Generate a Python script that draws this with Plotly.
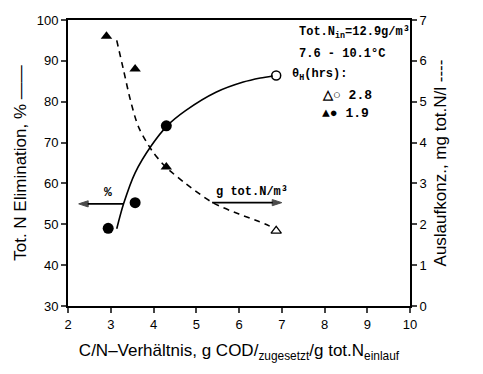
import plotly.graph_objects as go

# Data
cn_circles = [2.94, 3.57, 4.30]
elim_circles = [49.0, 55.3, 74.1]
cn_circle_open = [6.87]
elim_circle_open = [86.4]

cn_tri = [2.90, 3.57, 4.30]
conc_tri = [6.6, 5.8, 3.4]
cn_tri_open = [6.87]
conc_tri_open = [1.84]

# fitted curves
cn_curve_solid = [3.14, 3.30, 3.57, 3.96, 4.32, 4.75, 5.46, 6.10, 6.50, 6.79]
elim_curve_solid = [48.9, 55.0, 62.6, 69.4, 74.1, 77.8, 82.3, 84.8, 85.8, 86.3]
cn_curve_dash = [3.14, 3.30, 3.46, 3.65, 3.96, 4.28, 4.75, 5.40, 6.00, 6.47, 6.79]
conc_curve_dash = [6.50, 5.77, 5.04, 4.38, 3.81, 3.41, 3.00, 2.52, 2.25, 2.07, 1.92]

# direction arrows
arrow_left_x = [3.30, 2.25]
arrow_left_y = [55.0, 55.0]
arrow_right_x = [5.37, 7.0]
arrow_right_y = [55.3, 55.3]

x_ticks = [2, 3, 4, 5, 6, 7, 8, 9, 10]
y_ticks = [30, 40, 50, 60, 70, 80, 90, 100]
y2_ticks = [0, 1, 2, 3, 4, 5, 6, 7]

fig = go.Figure()
fig.add_trace(go.Scatter(x=cn_curve_solid, y=elim_curve_solid, mode="lines",
                         line=dict(color="black", width=1.6, shape="spline", smoothing=0.8), yaxis="y"))
fig.add_trace(go.Scatter(x=cn_curve_dash, y=conc_curve_dash, mode="lines",
                         line=dict(color="black", width=1.6, dash="6px,5px", shape="spline", smoothing=0.8),
                         yaxis="y2"))
fig.add_trace(go.Scatter(x=cn_circles, y=elim_circles, mode="markers",
                         marker=dict(symbol="circle", size=11, color="black"), yaxis="y"))
fig.add_trace(go.Scatter(x=cn_circle_open, y=elim_circle_open, mode="markers",
                         marker=dict(symbol="circle-open", size=9, color="black", line=dict(width=1.5)), yaxis="y"))
fig.add_trace(go.Scatter(x=cn_tri, y=conc_tri, mode="markers",
                         marker=dict(symbol="triangle-up", size=10, color="black"), yaxis="y2"))
fig.add_trace(go.Scatter(x=cn_tri_open, y=conc_tri_open, mode="markers",
                         marker=dict(symbol="triangle-up-open", size=9, color="black", line=dict(width=1.3)), yaxis="y2"))
for ax_, ay_ in [(arrow_left_x, arrow_left_y), (arrow_right_x, arrow_right_y)]:
    fig.add_trace(go.Scatter(x=ax_, y=ay_, mode="lines+markers", yaxis="y",
                             line=dict(color="black", width=1.6),
                             marker=dict(symbol=["circle", "arrow"], size=[0, 10], color="black",
                                         angleref="previous", line=dict(width=1, color="black"))))

mono = "Liberation Mono"
W, H = 483, 374
pl, pr, pt, pb = 68, W - 73, 20, H - 68

annos = [
    dict(x=2.94, y=57.8, xref="x", yref="y", text="<b>%</b>", showarrow=False,
         font=dict(family=mono, size=13, color="black")),
    dict(x=6.3, y=57.8, xref="x", yref="y", text="<b>g tot.N/m³</b>", showarrow=False,
         font=dict(family=mono, size=12, color="black")),
]
texts = [
    (297, 33, "<b>Tot.N<sub>in</sub>=12.9g/m³</b>", 12),
    (297, 54, "<b>7.6 - 10.1°C</b>", 12),
    (290, 75, "<b>θ<sub>H</sub>(hrs):</b>", 12),
    (320, 95, "<b>△○ 2.8</b>", 13),
    (320, 114, "<b>▲● 1.9</b>", 13),
]
for px, py, t, fs in texts:
    annos.append(dict(x=(px - pl) / (pr - pl), y=1 - (py - pt) / (pb - pt),
                      xref="paper", yref="paper", xanchor="left", yanchor="middle",
                      text=t, showarrow=False,
                      font=dict(family=mono, size=fs, color="black")))

fig.update_layout(
    width=W, height=H,
    margin=dict(l=68, r=73, t=20, b=68),
    paper_bgcolor="white", plot_bgcolor="white",
    showlegend=False,
    font=dict(family="Liberation Sans", size=12, color="black"),
    xaxis=dict(range=[2, 10], tickvals=x_ticks, ticks="outside", ticklen=5, tickwidth=1.5,
               showline=True, linecolor="black", linewidth=2, mirror=True, showgrid=False,
               zeroline=False, tickfont=dict(size=13),
               title=dict(text="C/N–Verhältnis, g COD/<sub>zugesetzt</sub>/g tot.N<sub>einlauf</sub>",
                          font=dict(size=17), standoff=14)),
    yaxis=dict(range=[30, 100], tickvals=y_ticks, ticks="outside", ticklen=5, tickwidth=1.5,
               showline=True, linecolor="black", linewidth=2, showgrid=False, zeroline=False,
               tickfont=dict(size=13),
               title=dict(text="Tot. N Elimination, % ——", font=dict(size=17), standoff=6)),
    yaxis2=dict(range=[0, 7], tickvals=y2_ticks, ticks="outside", ticklen=5, tickwidth=1.5,
                overlaying="y", side="right", showline=True, linecolor="black", linewidth=2,
                showgrid=False, zeroline=False, tickfont=dict(size=13),
                title=dict(text="Auslaufkonz., mg tot.N/l ----", font=dict(size=17), standoff=8)),
    annotations=annos,
)

fig.write_html("out.html")
